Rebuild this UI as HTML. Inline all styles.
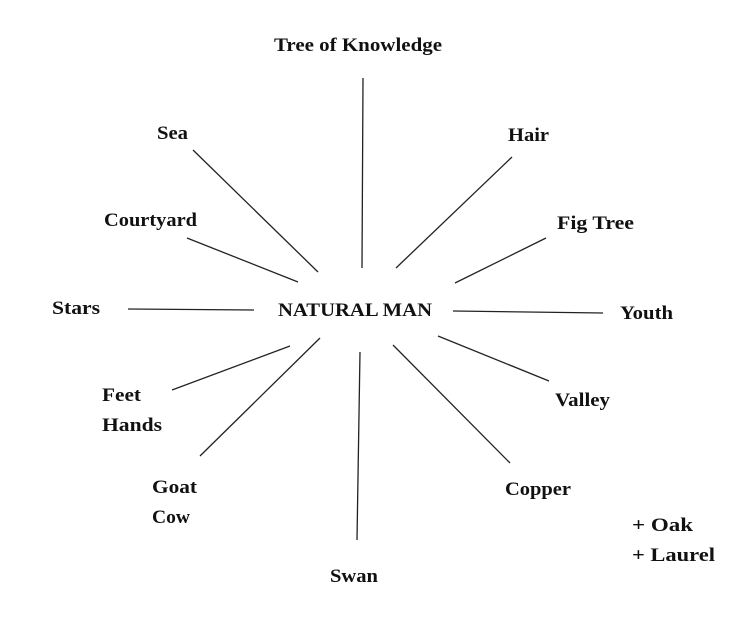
<!DOCTYPE html>
<html><head><meta charset="utf-8"><style>
html,body{margin:0;padding:0;background:#fff;}
svg{display:block;}
text{font-family:"Liberation Serif",serif;font-weight:bold;font-size:19px;fill:#111;}
line{stroke:#222;stroke-width:1.3;}
</style></head><body>
<svg width="750" height="618" viewBox="0 0 750 618" xmlns="http://www.w3.org/2000/svg">
<line x1="363" y1="78" x2="362" y2="268"/>
<line x1="193" y1="150" x2="318" y2="272"/>
<line x1="512" y1="157" x2="396" y2="268"/>
<line x1="187" y1="238" x2="298" y2="282"/>
<line x1="546" y1="238" x2="455" y2="283"/>
<line x1="128" y1="309" x2="254" y2="310"/>
<line x1="453" y1="311" x2="603" y2="313"/>
<line x1="172" y1="390" x2="290" y2="346"/>
<line x1="438" y1="336" x2="549" y2="381"/>
<line x1="200" y1="456" x2="320" y2="338"/>
<line x1="393" y1="345" x2="510" y2="463"/>
<line x1="360" y1="352" x2="357" y2="540"/>
<g lengthAdjust="spacingAndGlyphs">
<text x="274" y="51" textLength="168" lengthAdjust="spacingAndGlyphs">Tree of Knowledge</text>
<text x="278" y="316" textLength="154" lengthAdjust="spacingAndGlyphs">NATURAL MAN</text>
<text x="157" y="139" textLength="31" lengthAdjust="spacingAndGlyphs">Sea</text>
<text x="508" y="141" textLength="41" lengthAdjust="spacingAndGlyphs">Hair</text>
<text x="104" y="226" textLength="93" lengthAdjust="spacingAndGlyphs">Courtyard</text>
<text x="557" y="229" textLength="77" lengthAdjust="spacingAndGlyphs">Fig Tree</text>
<text x="52" y="314" textLength="48" lengthAdjust="spacingAndGlyphs">Stars</text>
<text x="620" y="319" textLength="53" lengthAdjust="spacingAndGlyphs">Youth</text>
<text x="102" y="401" textLength="39" lengthAdjust="spacingAndGlyphs">Feet</text>
<text x="102" y="431" textLength="60" lengthAdjust="spacingAndGlyphs">Hands</text>
<text x="555" y="406" textLength="55" lengthAdjust="spacingAndGlyphs">Valley</text>
<text x="152" y="493" textLength="45" lengthAdjust="spacingAndGlyphs">Goat</text>
<text x="152" y="523" textLength="38" lengthAdjust="spacingAndGlyphs">Cow</text>
<text x="505" y="495" textLength="66" lengthAdjust="spacingAndGlyphs">Copper</text>
<text x="632" y="531" textLength="61" lengthAdjust="spacingAndGlyphs">+ Oak</text>
<text x="632" y="561" textLength="83" lengthAdjust="spacingAndGlyphs">+ Laurel</text>
<text x="330" y="582" textLength="48" lengthAdjust="spacingAndGlyphs">Swan</text>
</g>
</svg>
</body></html>
